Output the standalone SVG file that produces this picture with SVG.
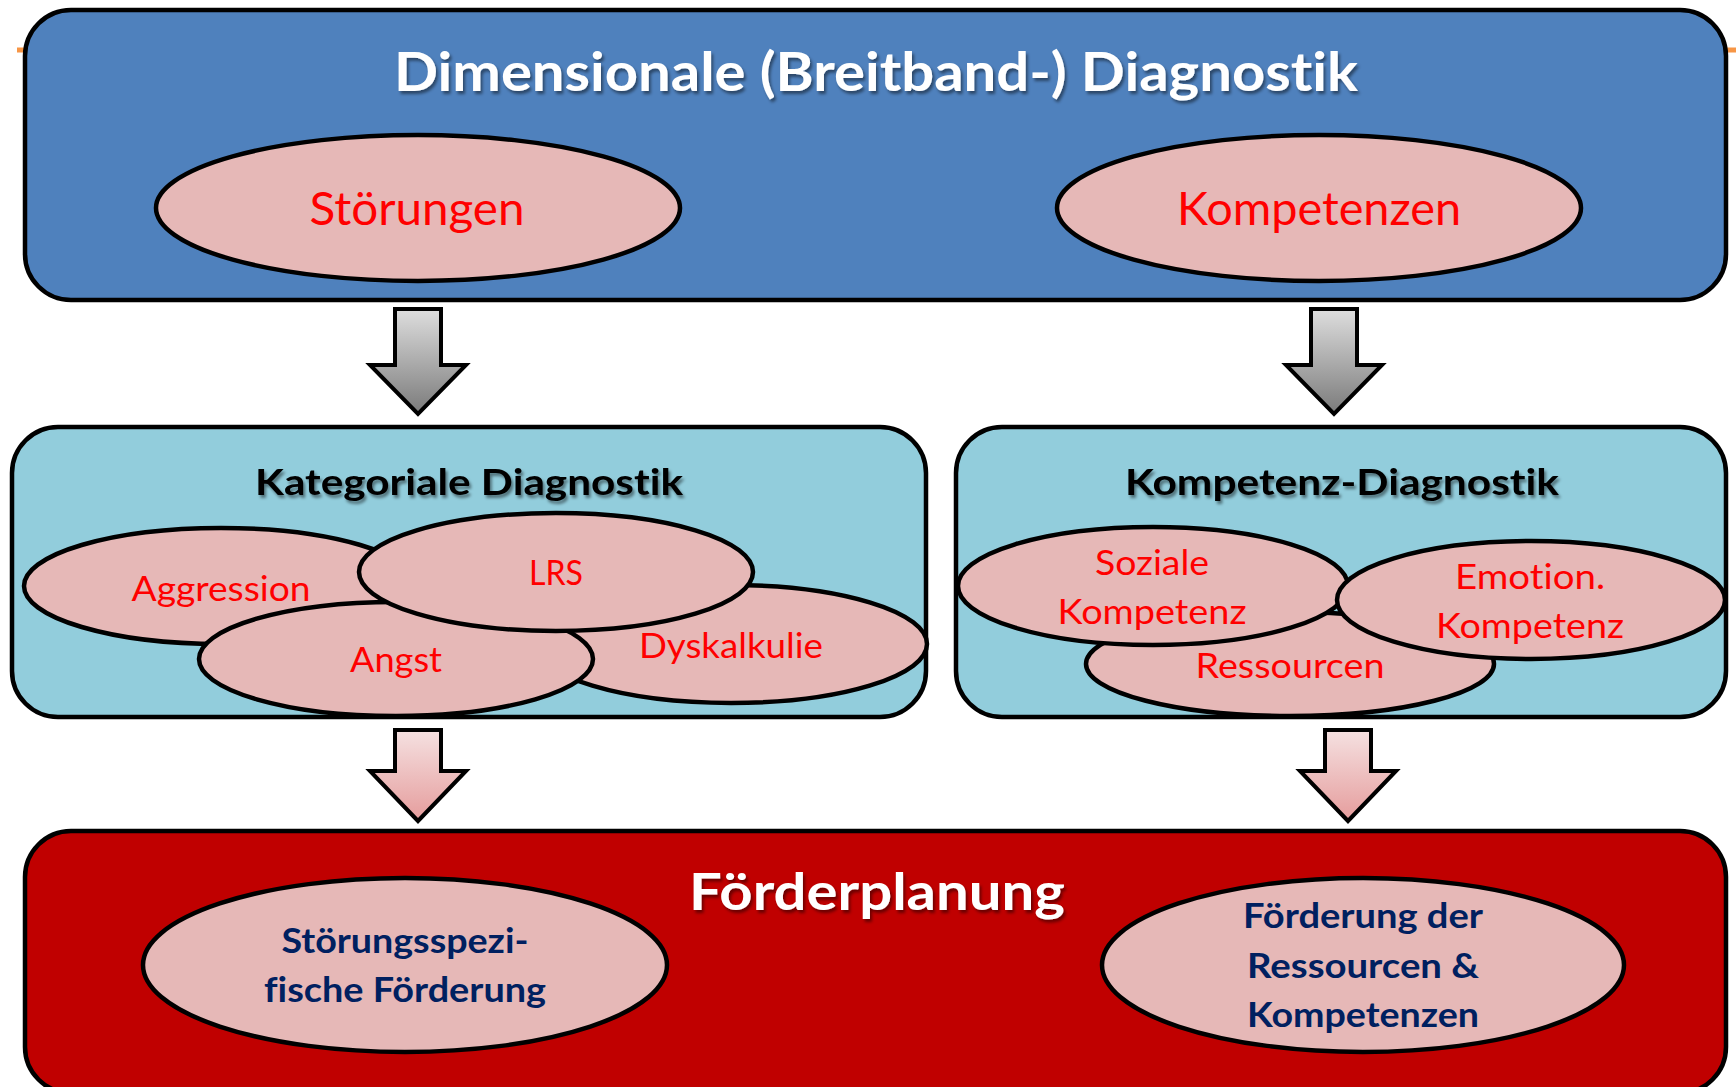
<svg xmlns="http://www.w3.org/2000/svg" width="1736" height="1087" viewBox="0 0 1736 1087">
<style>
.box{stroke:#000;stroke-width:4.5}
.ell{fill:#E6B8B7;stroke:#000;stroke-width:4.5}
.arr{stroke:#000;stroke-width:4;stroke-linejoin:miter}
text{font-family:Lato,"Open Sans","Liberation Sans",sans-serif;text-anchor:middle;font-variant-ligatures:none;font-feature-settings:"liga" 0,"dlig" 0}
.red{fill:#FF0000;font-size:34px}
.big{fill:#FF0000;font-size:46px}
.navy{fill:#002060;font-size:35px;font-weight:bold}
.ttl{font-weight:bold}
</style>
<defs>
<linearGradient id="gGray" x1="0" y1="0" x2="0" y2="1">
<stop offset="0" stop-color="#DEDEDE"/><stop offset="1" stop-color="#7A7A7A"/>
</linearGradient>
<linearGradient id="gPink" x1="0" y1="0" x2="0" y2="1">
<stop offset="0" stop-color="#F5E1E1"/><stop offset="1" stop-color="#E59C9C"/>
</linearGradient>
<filter id="sh" x="-5%" y="-20%" width="110%" height="150%">
<feDropShadow dx="2" dy="3" stdDeviation="1.5" flood-color="#000" flood-opacity="0.45"/>
</filter>
</defs>
<rect width="1736" height="1087" fill="#fff"/>
<line x1="17" y1="50" x2="1736" y2="50" stroke="#F79646" stroke-width="5"/>

<g id="dimensional">
<rect class="box" x="25" y="10" width="1701" height="290" rx="46" fill="#4F81BD"/>
<text class="ttl" x="876" y="91" font-size="54" fill="#fff" textLength="964" lengthAdjust="spacingAndGlyphs" filter="url(#sh)">Dimensionale (Breitband-) Diagnostik</text>
</g>
<g id="stoerungen">
<ellipse class="ell" cx="418" cy="208" rx="262" ry="73"/>
<text class="big" x="417" y="225" textLength="215" lengthAdjust="spacingAndGlyphs">Störungen</text>
</g>
<g id="kompetenzen">
<ellipse class="ell" cx="1319" cy="208" rx="262" ry="73"/>
<text class="big" x="1319" y="225" textLength="284" lengthAdjust="spacingAndGlyphs">Kompetenzen</text>
</g>

<g id="kategoriale">
<rect class="box" x="12" y="427" width="914" height="290" rx="46" fill="#92CDDC"/>
<text class="ttl" x="469" y="495" font-size="37" fill="#000" textLength="428" lengthAdjust="spacingAndGlyphs" filter="url(#sh)">Kategoriale Diagnostik</text>
</g>
<g id="aggression">
<ellipse class="ell" cx="221" cy="586" rx="197" ry="58"/>
<text class="red" x="221" y="601" textLength="179" lengthAdjust="spacingAndGlyphs">Aggression</text>
</g>
<g id="dyskalkulie">
<ellipse class="ell" cx="731" cy="644" rx="196" ry="59"/>
<text class="red" x="731" y="658" textLength="184" lengthAdjust="spacingAndGlyphs">Dyskalkulie</text>
</g>
<g id="angst">
<ellipse class="ell" cx="396" cy="659" rx="197" ry="57"/>
<text class="red" x="396" y="672" textLength="92" lengthAdjust="spacingAndGlyphs">Angst</text>
</g>
<g id="lrs">
<ellipse class="ell" cx="556" cy="572" rx="197" ry="59"/>
<text class="red" x="556" y="585" textLength="54" lengthAdjust="spacingAndGlyphs">LRS</text>
</g>

<g id="kompetenz-diagnostik">
<rect class="box" x="956" y="427" width="770" height="290" rx="46" fill="#92CDDC"/>
<text class="ttl" x="1342" y="495" font-size="37" fill="#000" textLength="434" lengthAdjust="spacingAndGlyphs" filter="url(#sh)">Kompetenz-Diagnostik</text>
</g>
<g id="ressourcen">
<ellipse class="ell" cx="1290" cy="664" rx="204" ry="52"/>
<text class="red" x="1290" y="678" textLength="189" lengthAdjust="spacingAndGlyphs">Ressourcen</text>
</g>
<g id="soziale">
<ellipse class="ell" cx="1153" cy="586" rx="195" ry="59"/>
<text class="red" x="1152" y="575" textLength="114" lengthAdjust="spacingAndGlyphs">Soziale</text>
<text class="red" x="1152" y="624" textLength="189" lengthAdjust="spacingAndGlyphs">Kompetenz</text>
</g>
<g id="emotion">
<ellipse class="ell" cx="1531" cy="600" rx="194" ry="59"/>
<text class="red" x="1530" y="589" textLength="150" lengthAdjust="spacingAndGlyphs">Emotion.</text>
<text class="red" x="1530" y="638" textLength="188" lengthAdjust="spacingAndGlyphs">Kompetenz</text>
</g>

<g id="foerderplanung">
<rect class="box" x="25" y="831" width="1701" height="262" rx="46" fill="#C00000"/>
<text class="ttl" x="877" y="910" font-size="51" fill="#fff" textLength="376" lengthAdjust="spacingAndGlyphs" filter="url(#sh)">Förderplanung</text>
</g>
<g id="stoerungsspezifisch">
<ellipse class="ell" cx="405" cy="965" rx="262" ry="87"/>
<text class="navy" x="405" y="953" textLength="247" lengthAdjust="spacingAndGlyphs">Störungsspezi-</text>
<text class="navy" x="405" y="1002" textLength="282" lengthAdjust="spacingAndGlyphs">fische Förderung</text>
</g>
<g id="foerderung-ressourcen">
<ellipse class="ell" cx="1363" cy="965" rx="261" ry="87"/>
<text class="navy" x="1363" y="928" textLength="240" lengthAdjust="spacingAndGlyphs">Förderung der</text>
<text class="navy" x="1363" y="978" textLength="232" lengthAdjust="spacingAndGlyphs">Ressourcen &amp;</text>
<text class="navy" x="1363" y="1027" textLength="232" lengthAdjust="spacingAndGlyphs">Kompetenzen</text>
</g>

<g id="connectors">
<path class="arr" fill="url(#gGray)" d="M395,309 H441 V365 H466 L418,414 L370,365 H395 Z"/>
<path class="arr" fill="url(#gGray)" d="M1311,309 H1357 V365 H1382 L1334,414 L1286,365 H1311 Z"/>
<path class="arr" fill="url(#gPink)" d="M395,730 H441 V771 H466 L418,821 L370,771 H395 Z"/>
<path class="arr" fill="url(#gPink)" d="M1325,730 H1371 V771 H1396 L1348,821 L1300,771 H1325 Z"/>
</g>
</svg>
